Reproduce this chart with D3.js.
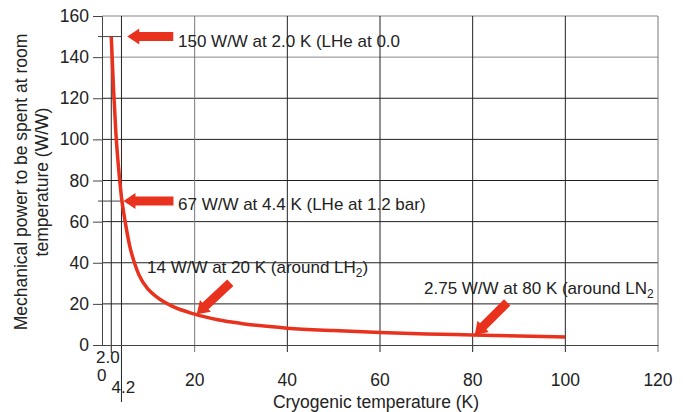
<!DOCTYPE html>
<html>
<head>
<meta charset="utf-8">
<script src="https://cdn.jsdelivr.net/npm/d3@7"></script>
<style>
body { margin: 0; background: #fff; }
text { font-family: "Liberation Sans", Arial, sans-serif; fill: #222; }
</style>
</head>
<body>
<script>
var w = 683, h = 412;
var margin = { top: 16, right: 25, bottom: 67, left: 102 };

// curve: temperature (K) and power (W/W)
var temps = [2.0, 2.5, 3.0, 3.5, 4.2, 5, 6, 7, 8, 10, 12, 15, 20, 25, 30, 40, 50, 60, 70, 80, 90, 100];
var power = [150, 124, 103, 88, 72, 60, 48, 40, 34, 27, 23, 19, 15, 12.3, 10.5, 8.2, 7, 6.1, 5.4, 4.9, 4.4, 3.9];

var xTicks = [0, 20, 40, 60, 80, 100, 120];
var yTicks = [0, 20, 40, 60, 80, 100, 120, 140, 160];

// annotation tips (data coords) and text
var noteTipT = [2.0, 4.2, 20, 80];
var noteTipW = [150, 70, 15, 4.9];
var noteText = ['150 W/W at 2.0 K (LHe at 0.0', '67 W/W at 4.4 K (LHe at 1.2 bar)', '14 W/W at 20 K (around LH', '2.75 W/W at 80 K (around LN'];
var noteSub = ['', '', '2', '2'];
var noteClose = ['', '', ')', ''];

var xScale = d3.scaleLinear().domain([0, 120]).range([margin.left, w - margin.right]);
var yScale = d3.scaleLinear().domain([0, 160]).range([h - margin.bottom, margin.top]);

var svg = d3.select('body').append('svg')
    .attr('width', w)
    .attr('height', h);

// grid
svg.append('g').selectAll('line')
    .data(yTicks.slice(1))
    .enter().append('line')
    .attr('x1', xScale(0)).attr('x2', xScale(120))
    .attr('y1', function (d) { return yScale(d); })
    .attr('y2', function (d) { return yScale(d); })
    .attr('stroke', function (d) { return d == 160 || d == 140 ? '#888' : '#222'; })
    .attr('stroke-width', 1);

svg.append('g').selectAll('line')
    .data(xTicks.slice(1))
    .enter().append('line')
    .attr('x1', function (d) { return xScale(d); })
    .attr('x2', function (d) { return xScale(d); })
    .attr('y1', yScale(160))
    .attr('y2', yScale(0) + 7)
    .attr('stroke', function (d) { return d == 20 || d == 120 ? '#777' : '#222'; })
    .attr('stroke-width', 1);

// special temperatures 2.0 and 4.2
svg.append('line')
    .attr('x1', xScale(2.0)).attr('x2', xScale(2.0))
    .attr('y1', yScale(150)).attr('y2', yScale(0) + 8)
    .attr('stroke', '#222');
svg.append('line')
    .attr('x1', xScale(4.2)).attr('x2', xScale(4.2))
    .attr('y1', yScale(160)).attr('y2', h - 10)
    .attr('stroke', '#222');

// short marks at 150 and 70
[150, 70].forEach(function (v) {
    svg.append('line')
        .attr('x1', xScale(0) - 4).attr('x2', xScale(4.2))
        .attr('y1', yScale(v)).attr('y2', yScale(v))
        .attr('stroke', '#444');
});

// axes
var yAxis = d3.axisLeft(yScale).tickValues(yTicks).tickSize(9).tickPadding(4);
var gy = svg.append('g')
    .attr('transform', 'translate(' + xScale(0) + ',0)')
    .call(yAxis);
gy.select('.domain').attr('stroke', '#444');
gy.selectAll('.tick line').attr('stroke', '#444');
gy.selectAll('.tick text').style('font-size', '17.5px').attr('fill', '#222');

var gx = svg.append('g')
    .attr('transform', 'translate(0,' + yScale(0) + ')')
    .call(d3.axisBottom(xScale).tickValues([]).tickSize(0));
gx.select('.domain').attr('stroke', '#444');

svg.append('g').selectAll('text')
    .data(xTicks.slice(1))
    .enter().append('text')
    .attr('x', function (d) { return xScale(d); })
    .attr('y', 386)
    .attr('text-anchor', 'middle')
    .style('font-size', '17.5px')
    .text(function (d) { return d; });

svg.append('text').attr('x', xScale(0) - 5).attr('y', 381).style('font-size', '17px').text('0');
svg.append('text').attr('x', xScale(0) - 6).attr('y', 363).style('font-size', '17px').text('2.0');
svg.append('text').attr('x', xScale(4.2) - 10).attr('y', 393).style('font-size', '17px').text('4.2');

// axis titles
svg.append('text')
    .attr('x', (xScale(0) + xScale(120)) / 2 - 4)
    .attr('y', 408)
    .attr('text-anchor', 'middle')
    .style('font-size', '17.5px')
    .text('Cryogenic temperature (K)');

var yt = svg.append('text')
    .attr('transform', 'translate(27,' + 182 + ') rotate(-90)')
    .attr('text-anchor', 'middle')
    .style('font-size', '17.5px');
yt.append('tspan').attr('x', 0).attr('y', 0).text('Mechanical power to be spent at room');
yt.append('tspan').attr('x', 0).attr('y', 21).text('temperature (W/W)');

// curve
var line = d3.line()
    .x(function (d, i) { return xScale(temps[i]); })
    .y(function (d) { return yScale(d); })
    .curve(d3.curveMonotoneX);

svg.append('path')
    .datum(power)
    .attr('d', line)
    .attr('fill', 'none')
    .attr('stroke', '#e8321e')
    .attr('stroke-width', 3.5);

// block arrows
function arrow(tx, ty, angle, len) {
    var hl = 12, hw = 8, sw = 4.5;
    var pts = [[0, 0], [hl, -hw], [hl, -sw], [len, -sw], [len, sw], [hl, sw], [hl, hw]];
    svg.append('polygon')
        .attr('points', pts.map(function (p) { return p.join(','); }).join(' '))
        .attr('transform', 'translate(' + tx + ',' + ty + ') rotate(' + angle + ')')
        .attr('fill', '#e8321e');
}
arrow(xScale(noteTipT[0]) + 16, yScale(noteTipW[0]), 0, 46);
arrow(xScale(noteTipT[1]) + 2, yScale(noteTipW[1]), 0, 50);
arrow(xScale(noteTipT[2]) + 2, yScale(noteTipW[2]), -43, 46);
arrow(xScale(noteTipT[3]) + 2, yScale(noteTipW[3]), -45, 46);

// annotation text
var noteX = [178, 178, 147, 424];
var noteY = [47, 210, 273, 294];
noteText.forEach(function (t, i) {
    var tx = svg.append('text')
        .attr('x', noteX[i])
        .attr('y', noteY[i])
        .style('font-size', '17px')
        .text(t);
    if (noteSub[i]) {
        tx.append('tspan').attr('dy', 4).style('font-size', '12px').text(noteSub[i]);
        tx.append('tspan').attr('dy', -4).text(noteClose[i]);
    }
});
</script>
</body>
</html>
